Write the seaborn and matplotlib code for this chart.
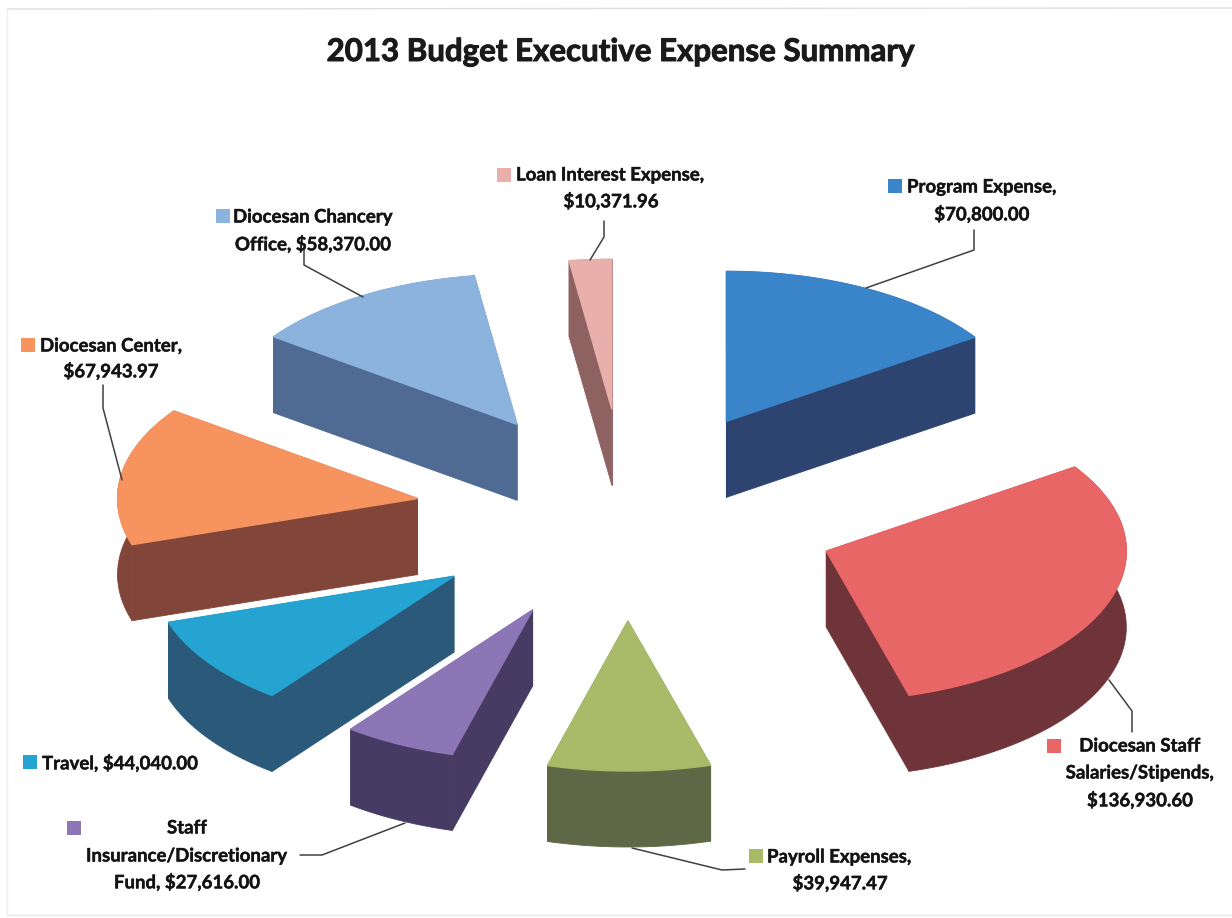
"""
2013 budget expense summary: exploded 3D pie, the wedge geometry is worked out from the amounts.
"""

import numpy as np
import pandas as pd
import matplotlib
matplotlib.use('Agg')
import matplotlib.pyplot as plt
import matplotlib.patheffects as pe
import seaborn as sns

# Values, clockwise from 12 o'clock
categories = ['Program Expense', 'Diocesan Staff Salaries/Stipends', 'Payroll Expenses',
              'Staff Insurance/Discretionary Fund', 'Travel', 'Diocesan Center',
              'Diocesan Chancery Office', 'Loan Interest Expense']
amounts = [70800.00, 136930.60, 39947.47, 27616.00, 44040.00, 67943.97, 58370.00, 10371.96]

top_colors = ['#3a84ca', '#e96666', '#a9ba68', '#8d76b6', '#25a3d1', '#f6935f', '#8cb2de', '#e9afab']
side_colors = ['#2d4470', '#6f3439', '#5f6846', '#463c63', '#2b5979', '#824539', '#4f6b93', '#8f6262']

# label lines: (text, x, y, ha)
label_lines = [
    ('Program Expense,', 907, 187, 'left'), ('$70,800.00', 982, 214, 'center'),
    ('Diocesan Staff', 1140, 746, 'center'), ('Salaries/Stipends,', 1140, 773, 'center'),
    ('$136,930.60', 1140, 800, 'center'),
    ('Payroll Expenses,', 767, 857, 'left'), ('$39,947.47', 840, 883, 'center'),
    ('Staff', 187, 828, 'center'), ('Insurance/Discretionary', 187, 856, 'center'),
    ('Fund, $27,616.00', 187, 882, 'center'),
    ('Travel, $44,040.00', 42, 763, 'left'),
    ('Diocesan Center,', 40, 346, 'left'), ('$67,943.97', 111, 371, 'center'),
    ('Diocesan Chancery', 233, 217, 'left'), ('Office, $58,370.00', 313, 244, 'center'),
    ('Loan Interest Expense,', 516, 175, 'left'), ('$10,371.96', 611, 201, 'center'),
]
swatch_x = [895, 1054, 756, 74, 30, 28, 223, 504]
swatch_y = [186, 746, 856, 828, 762, 345, 216, 175]

leaders = [
    ([974, 974, 866], [230, 250, 288]),
    ([1132, 1132, 1109], [732, 711, 680]),
    ([745, 722, 632], [869, 870, 848]),
    ([300, 322, 405], [855, 855, 823]),
    ([103, 103, 122], [385, 408, 480]),
    ([304, 304, 363], [248, 265, 297]),
    ([604, 604, 590], [221, 237, 260]),
]

# pie geometry in pixels
CX, CY = 627, 515
RADIUS = 300
SQUASH = 0.5
EXPLODE = 212
DEPTH = 76


def project(ax_, ay_, theta, r):
    # theta in degrees, clockwise from 12 o'clock, y axis pointing down
    t = np.radians(theta)
    return ax_ + r * np.sin(t), ay_ - r * np.cos(t) * SQUASH


def draw_wedge(ax, start, end, top, side, order):
    mid = (start + end) / 2
    ax_, ay_ = project(CX, CY, mid, EXPLODE)
    thetas = np.linspace(start, end, 120)
    rx, ry = project(ax_, ay_, thetas, RADIUS)
    z = order * 3

    # two cut faces, then the curved rim, then the top on all of it
    for i in (0, -1):
        ax.fill([ax_, rx[i], rx[i], ax_], [ay_, ry[i], ry[i] + DEPTH, ay_ + DEPTH],
                color=side, lw=0.6, zorder=z)
    ax.fill(np.r_[rx, rx[::-1]], np.r_[ry, ry[::-1] + DEPTH], color=side, lw=0.6, zorder=z + 1)
    ax.fill(np.r_[ax_, rx], np.r_[ay_, ry], color=top, lw=1.0, zorder=z + 2)


sns.set_theme(style='white')
plt.rcParams['font.family'] = ['Lato', 'DejaVu Sans']

fig, ax = plt.subplots(figsize=(12.32, 9.18), dpi=100)
ax.set_position([0, 0, 1, 1])
ax.set_xlim(0, 1232)
ax.set_ylim(918, 0)
ax.axis('off')

df = pd.DataFrame({'category': categories, 'amount': amounts})
df['end'] = df['amount'].cumsum() / df['amount'].sum() * 360
df['start'] = df['end'].shift(fill_value=0)

# back wedges first
mids = np.cos(np.radians((df['start'] + df['end']) / 2))
for order, i in enumerate(np.argsort(-mids.values)):
    draw_wedge(ax, df['start'][i], df['end'][i], top_colors[i], side_colors[i], order + 1)

# scanned frame of the chart area
ax.plot([7, 1232], [9, 8], color='#dedede', lw=1)
ax.plot([7, 7], [9, 915], color='#eeeeee', lw=1)
ax.plot([7, 1232], [915, 915], color='#e8e8e8', lw=1)

for xs, ys in leaders:
    ax.plot(xs, ys, color='#404040', lw=1.1, zorder=40)

swatches = pd.DataFrame({'x': swatch_x, 'y': swatch_y, 'category': categories})
sns.scatterplot(data=swatches, x='x', y='y', hue='category', palette=top_colors, marker='s',
                s=105, linewidth=0, legend=False, ax=ax, zorder=41)
ax.set_xlim(0, 1232)
ax.set_ylim(918, 0)

for text, x, y, ha in label_lines:
    t = ax.text(x, y, text, ha=ha, va='center', fontsize=13.4, fontweight='bold', color='#141414', zorder=42)
    t.set_path_effects([pe.withStroke(linewidth=0.3, foreground='#141414')])

title = ax.text(621, 52, '2013 Budget Executive Expense Summary', ha='center', va='center',
                fontsize=22.5, fontweight='bold', color='#1a1a1a')
title.set_path_effects([pe.withStroke(linewidth=0.7, foreground='#1a1a1a')])

fig.savefig('out.png', dpi=100, facecolor='white')
